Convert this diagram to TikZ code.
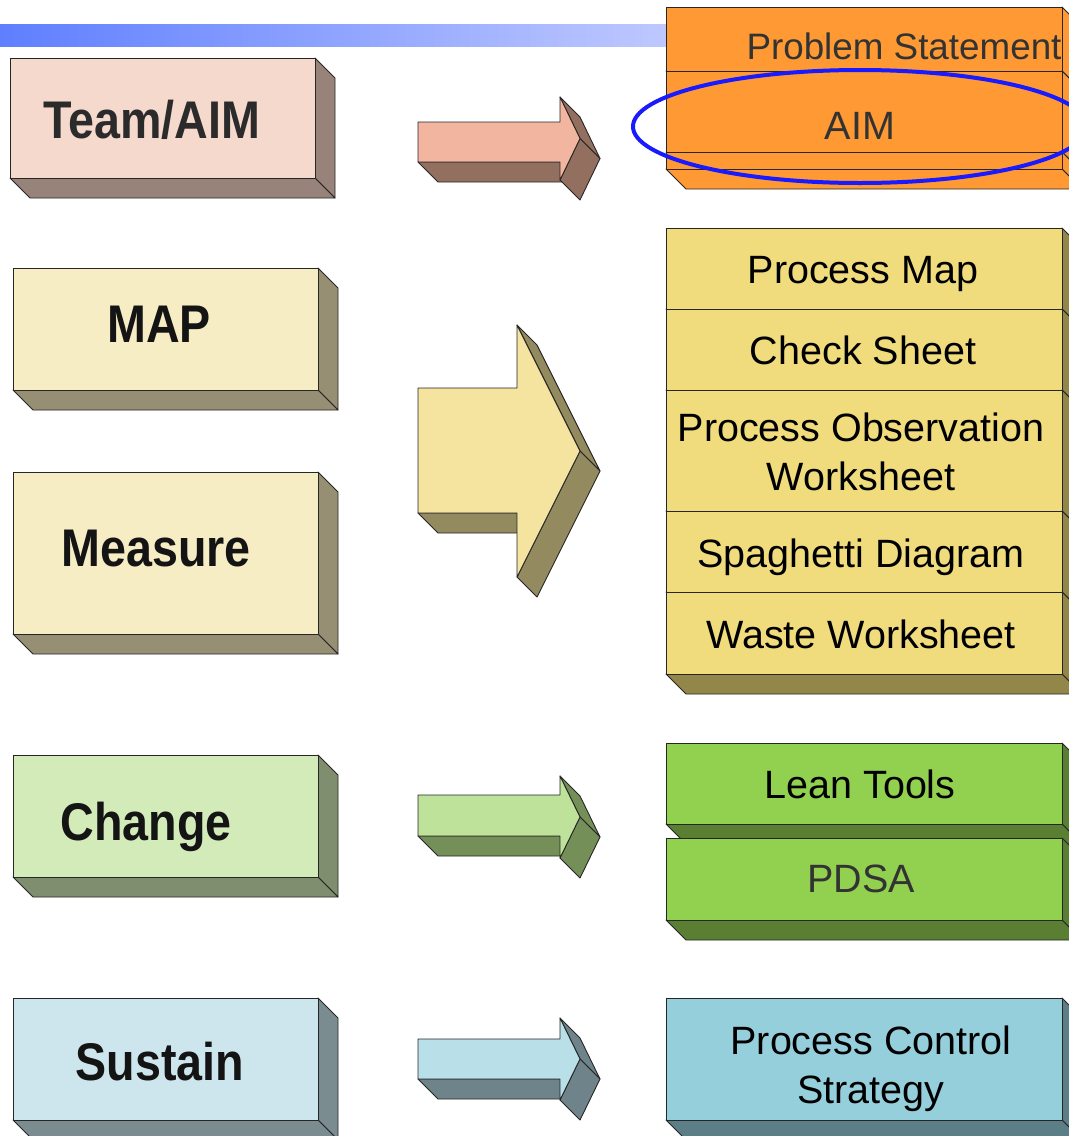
\documentclass[tikz,border=0pt]{standalone}
\usepackage{fontspec}
\setmainfont{Liberation Sans}
\newfontfamily\phasefont{Liberation Sans}[FakeStretch=0.88]
\usetikzlibrary{calc}

\definecolor{barL}{HTML}{5F7FFF}
\definecolor{barR}{HTML}{BEC8FF}
\definecolor{teamF}{HTML}{F5D9CD}
\definecolor{teamS}{HTML}{978379}
\definecolor{mapF}{HTML}{F7EDC4}
\definecolor{mapS}{HTML}{978F74}
\definecolor{chgF}{HTML}{D2EBB9}
\definecolor{chgS}{HTML}{7F8E6F}
\definecolor{susF}{HTML}{CDE6EE}
\definecolor{susS}{HTML}{7B8C91}
\definecolor{aimF}{HTML}{FF9933}
\definecolor{toolF}{HTML}{F0DC7C}
\definecolor{toolS}{HTML}{938649}
\definecolor{leanF}{HTML}{92D050}
\definecolor{leanS}{HTML}{5A7E32}
\definecolor{pcsF}{HTML}{96CFDC}
\definecolor{pcsS}{HTML}{5B7E87}
\definecolor{arrAF}{HTML}{F2B6A0}
\definecolor{arrAS}{HTML}{936F60}
\definecolor{arrBF}{HTML}{F5E3A0}
\definecolor{arrBS}{HTML}{948A60}
\definecolor{arrCF}{HTML}{BFE29A}
\definecolor{arrCS}{HTML}{748F58}
\definecolor{arrDF}{HTML}{B9DFE8}
\definecolor{arrDS}{HTML}{6E848A}
\definecolor{ring}{HTML}{1A1AFF}

% 立体方块: 左 x, 上 y, 右 x, 下 y, 正面色, 侧面色
\newcommand{\slab}[6]{%
  \filldraw[edge, fill=#6] (#3,#2) -- (#3+20,#2+20) -- (#3+20,#4+20) -- (#3,#4) -- cycle;
  \filldraw[edge, fill=#6] (#1,#4) -- (#3,#4) -- (#3+20,#4+20) -- (#1+20,#4+20) -- cycle;
  \filldraw[edge, fill=#5] (#1,#2) rectangle (#3,#4);
}
% 立体箭头: 尾 x, 杆末 x, 尖 x, 杆上 y, 杆下 y, 头上 y, 头下 y, 正面色, 侧面色
\newcommand{\flatarrow}[9]{%
  \coordinate (tip) at (#3,{(#6+#7)/2});
  \filldraw[edge, fill=#9] (#1,#5) -- (#2,#5) -- (#2+20,#5+20) -- (#1+20,#5+20) -- cycle;
  \filldraw[edge, fill=#9] (#2,#6) -- (tip) -- ($(tip)+(20,20)$) -- (#2+20,#6+20) -- cycle;
  \filldraw[edge, fill=#9] (tip) -- (#2,#7) -- (#2+20,#7+20) -- ($(tip)+(20,20)$) -- cycle;
  \filldraw[edge, fill=#8] (#1,#4) -- (#2,#4) -- (#2,#6) -- (tip) -- (#2,#7) -- (#2,#5) -- (#1,#5) -- cycle;
}

\begin{document}
\begin{tikzpicture}[x=0.5pt, y=-0.5pt, line join=round,
    edge/.style={draw=black!85, line width=0.45pt},
    phase/.style={font=\phasefont\bfseries\fontsize{26.5}{30}\selectfont, text=black!92, anchor=base, inner sep=0pt},
    tool/.style={font=\fontsize{19.75}{24.5}\selectfont, anchor=base, inner sep=0pt, align=center}]
    \useasboundingbox (0,0) rectangle (1069,1136);

    % 标题下的渐变条
    \shade[left color=barL, right color=barR] (0,24) rectangle (666,46);

    % 1. 左列: 各阶段方块
    \slab{10}{58}{315}{178}{teamF}{teamS}
    \slab{13}{268}{318}{390}{mapF}{mapS}
    \slab{13}{472}{318}{634}{mapF}{mapS}
    \slab{13}{755}{318}{877}{chgF}{chgS}
    \slab{13}{998}{318}{1120}{susF}{susS}
    \node[phase, text=black!83] (team) at (152,138) {Team/AIM};
    \node[phase] (map) at (159,342) {MAP};
    \node[phase] (measure) at (156,566) {Measure};
    \node[phase] (change) at (146,840) {Change};
    \node[phase] (sustain) at (160,1080) {Sustain};

    % 2. 中列: 立体箭头
    \flatarrow{418}{560}{580}{122}{162}{97}{180}{arrAF}{arrAS}
    \flatarrow{418}{517}{580}{388}{513}{325}{577}{arrBF}{arrBS}
    \flatarrow{418}{560}{580}{795}{836}{776}{858}{arrCF}{arrCS}
    \flatarrow{418}{560}{580}{1039}{1079}{1018}{1100}{arrDF}{arrDS}

    % 3. 右列: 工具方块 (自上而下叠放)
    \slab{666}{7}{1062}{71}{aimF}{aimF}
    \slab{666}{71}{1062}{152}{aimF}{aimF}
    \slab{666}{152}{1062}{169}{aimF}{aimF}
    \node[tool, text=black!80, font=\fontsize{18.4}{22}\selectfont] (problem) at (904,59) {Problem Statement};
    \node[tool, text=black!80] (aim) at (860,139) {AIM};

    \slab{666}{228}{1062}{309}{toolF}{toolS}
    \slab{666}{309}{1062}{390}{toolF}{toolS}
    \slab{666}{390}{1062}{511}{toolF}{toolS}
    \slab{666}{511}{1062}{592}{toolF}{toolS}
    \slab{666}{592}{1062}{674}{toolF}{toolS}
    \node[tool] (pmap) at (863,283) {Process Map};
    \node[tool] (check) at (863,364) {Check Sheet};
    \node[tool] (observe) at (861,490) {Process Observation\\Worksheet};
    \node[tool] (spaghetti) at (861,567) {Spaghetti Diagram};
    \node[tool] (waste) at (861,648) {Waste Worksheet};

    \slab{666}{743}{1062}{824}{leanF}{leanS}
    \slab{666}{838}{1062}{920}{leanF}{leanS}
    \node[tool] (lean) at (860,798) {Lean Tools};
    \node[tool, text=black!80] (pdsa) at (861,892) {PDSA};

    \slab{666}{998}{1062}{1120}{pcsF}{pcsS}
    \node[tool] (control) at (871,1103) {Process Control\\Strategy};

    % 4. 圈出 AIM
    \draw[ring, line width=2pt] (860,126.5) ellipse [x radius=227, y radius=56.5];
\end{tikzpicture}
\end{document}
